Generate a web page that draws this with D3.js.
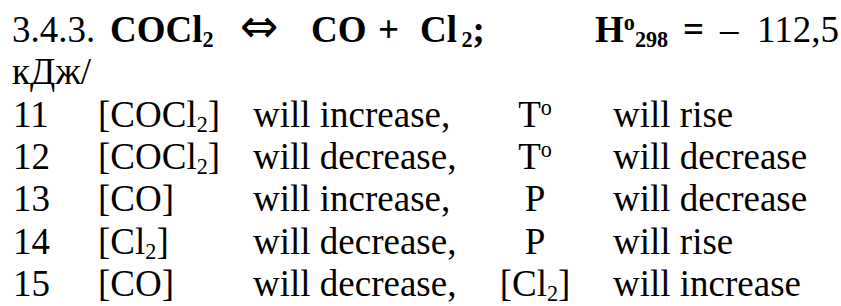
<!DOCTYPE html>
<html>
<head>
<meta charset="utf-8">
<script src="https://cdn.jsdelivr.net/npm/d3@7"></script>
<style>
  html, body { margin: 0; padding: 0; background: #fff; }
  svg { display: block; }
  text { font-family: "Liberation Serif", "Times New Roman", serif; fill: #000; }
</style>
</head>
<body>
<svg id="chart" width="841" height="306"></svg>
<script>
// ── data ──────────────────────────────────────────────
const rowNumbers = ['11', '12', '13', '14', '15'];
const species = [
  ['[COCl', '2', ']'],
  ['[COCl', '2', ']'],
  ['[CO]'],
  ['[Cl', '2', ']'],
  ['[CO]']
];
const concChanges = ['will increase,', 'will decrease,', 'will increase,', 'will decrease,', 'will decrease,'];
const factors = [['T', 'o'], ['T', 'o'], ['P'], ['P'], ['[Cl', '2', ']']];
const factorChanges = ['will rise', 'will decrease', 'will decrease', 'will rise', 'will increase'];

// header: [text, bold, role]  role: n = normal, sub, sup
const headerParts = [
  [['3.4.3.', false, 'n']],
  [['COCl', true, 'n'], ['2', true, 'sub']],
  [['\u21D4', false, 'arrow']],
  [['CO', true, 'n']],
  [['+', true, 'n']],
  [['Cl', true, 'n'], ['\u20092', true, 'sub'], [';', true, 'n']],
  [['H', true, 'n'], ['o', true, 'sup'], ['298', true, 'sub']],
  [['=', true, 'n']],
  [['\u2013', false, 'n']],
  [['112,5', false, 'n']]
];
const secondLine = 'кДж/';

// ── layout ────────────────────────────────────────────
const FS = 37;
const headerX = [12, 110, 240, 311, 378, 420, 595, 683, 720, 757];
const colX = [13, 98, 253, 535, 613];

const svg = d3.select('#chart');
const y = d3.scaleLinear().domain([0, 6]).range([42, 296]);

function addRuns(sel, runs) {
  runs.forEach(r => {
    const [txt, bold, role] = r;
    const t = sel.append('tspan').text(txt).attr('font-weight', bold ? 'bold' : 'normal');
    if (role === 'sub') t.attr('font-size', FS * 0.6).attr('baseline-shift', -5);
    else if (role === 'sup') t.attr('font-size', FS * 0.6).attr('baseline-shift', 12);
    else if (role === 'arrow') t.attr('font-family', '"DejaVu Sans", sans-serif').attr('font-size', 46);
  });
}

// header line
const hdr = svg.append('g');
headerParts.forEach((runs, i) => {
  const t = hdr.append('text').attr('x', headerX[i]).attr('y', y(0)).attr('font-size', FS);
  addRuns(t, runs);
});
svg.append('text').attr('x', 12).attr('y', y(1)).attr('font-size', FS).text(secondLine);

// table rows
function formula(parts) {
  return parts.length === 1 ? [[parts[0], false, 'n']]
    : parts.map((p, k) => [p, false, k === 1 ? 'sub' : 'n']);
}

const rows = svg.append('g').selectAll('g.row')
  .data(rowNumbers.map((n, i) => ({ n, sp: species[i], cc: concChanges[i], f: factors[i], fc: factorChanges[i], i })))
  .join('g').attr('class', 'row')
  .attr('transform', d => `translate(0,${y(d.i + 2)})`);

rows.append('text').attr('x', colX[0]).attr('font-size', FS).text(d => d.n);
rows.append('text').attr('x', colX[1]).attr('font-size', FS).each(function(d) { addRuns(d3.select(this), formula(d.sp)); });
rows.append('text').attr('x', colX[2]).attr('font-size', FS).text(d => d.cc);
rows.append('text').attr('x', colX[3]).attr('font-size', FS).attr('text-anchor', 'middle')
  .each(function(d) {
    const el = d3.select(this);
    if (d.f.length === 2 && d.f[1] === 'o') addRuns(el, [[d.f[0], false, 'n'], [d.f[1], false, 'sup']]);
    else addRuns(el, formula(d.f));
  });
rows.append('text').attr('x', colX[4]).attr('font-size', FS).text(d => d.fc);
</script>
</body>
</html>
